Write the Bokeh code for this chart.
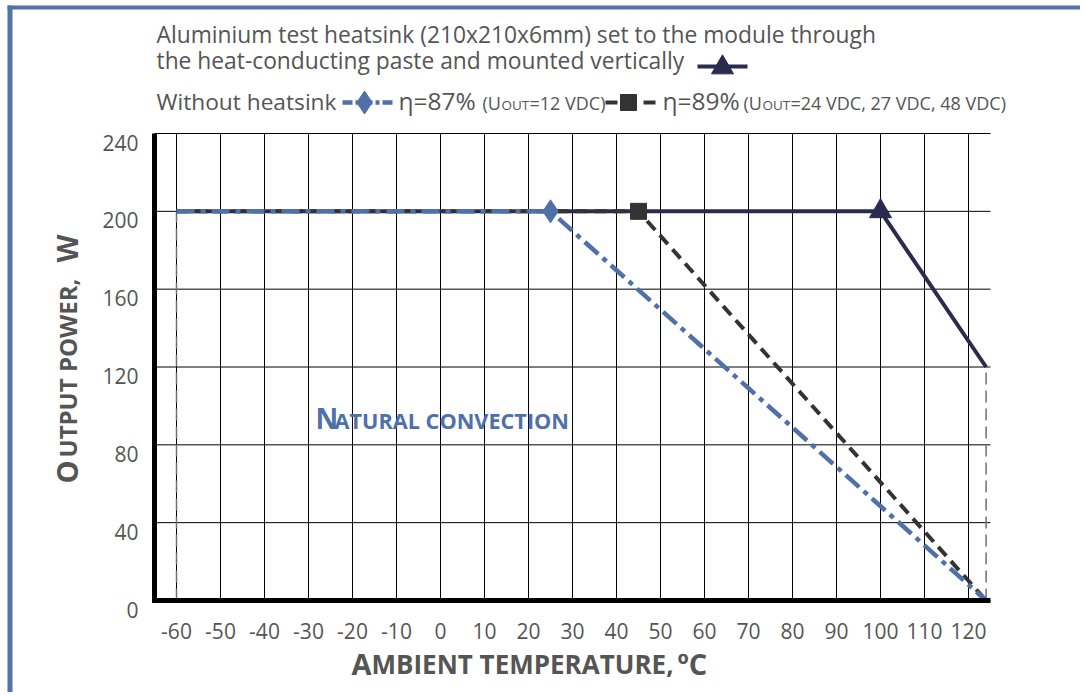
import numpy as np
from bokeh.plotting import figure
from bokeh.models import Range1d
from bokeh.core.properties import value
from bokeh.embed import file_html
from bokeh.resources import INLINE

# ---------------- data ----------------
temp_ticks = [-60, -50, -40, -30, -20, -10, 0, 10, 20, 30, 40, 50, 60, 70, 80, 90, 100, 110, 120]
temp_tick_labels = ["-60", "-50", "-40", "-30", "-20", "-10", "0", "10", "20", "30", "40",
                    "50", "60", "70", "80", "90", "100", "110", "120"]
power_ticks = [0, 40, 80, 120, 160, 200, 240]
power_tick_labels = ["0", "40", "80", "120", "160", "200", "240"]

heatsink_T = [-60, 100, 124]
heatsink_P = [200, 200, 120]
eta87_T = [-60, 25, 124]
eta87_P = [200, 200, 0]
eta89_T = [-60, 45, 124]
eta89_P = [200, 200, 0]
limit_T = [-60, 124]
limit_P = [200, 120]

X_MIN, X_MAX = -65, 125
Y_MIN, Y_MAX = 0, 240

# ---------------- geometry / styles ----------------
NAVY = "#2b2b50"
BLUE = "#4f70a9"
DARK = "#333333"
GRAY = "#555555"
FRAME_BLUE = "#5373aa"
FONT = "Open Sans"
BASE_FIX = 0.36           # measured shift of the rendered alphabetic baseline (em)

W, H = 1080, 692
PXU = 4.4                 # px per degree C
PYU = 467.0 / 240.0       # px per watt
X_LO = -60 - 176 / PXU    # data x at canvas left
X_HI = X_LO + W / PXU
Y_HI = Y_MIN + 600 / PYU  # data y at canvas top
Y_LO = Y_HI - H / PYU


def xd(px):
    return X_LO + px / PXU


def yd(py):
    return Y_HI - py / PYU


p = figure(width=W, height=H, x_range=Range1d(X_LO, X_HI), y_range=Range1d(Y_LO, Y_HI),
           x_axis_type=None, y_axis_type=None, min_border=0, toolbar_location=None,
           output_backend="svg", outline_line_color=None)
p.background_fill_color = "white"


def txt(px, py, s, size, color=GRAY, style="normal", rotated=False):
    fix = BASE_FIX * size
    if rotated:
        px, angle = px - fix, np.pi / 2
    else:
        py, angle = py - fix, 0.0
    p.text(x=[xd(px)], y=[yd(py)], text=[s], text_font=value(FONT), text_font_size=value(f"{size}px"),
           text_color=color, text_font_style=style, text_align="left",
           text_baseline="alphabetic", angle=angle)


# outer frame (blue border, left and top)
p.quad(left=[xd(7)], right=[xd(12)], top=[yd(5)], bottom=[yd(H)], fill_color=FRAME_BLUE, line_color=None)
p.quad(left=[xd(7)], right=[xd(W)], top=[yd(5)], bottom=[yd(9)], fill_color=FRAME_BLUE, line_color=None)

# ---------------- grid ----------------
p.segment(x0=temp_ticks, y0=[Y_MIN] * len(temp_ticks), x1=temp_ticks, y1=[Y_MAX] * len(temp_ticks),
          line_color="black", line_width=1)
p.segment(x0=[X_MIN] * len(power_ticks), y0=power_ticks, x1=[X_MAX] * len(power_ticks), y1=power_ticks,
          line_color="black", line_width=1)

# ---------------- curves ----------------
p.segment(x0=limit_T, y0=[Y_MIN] * len(limit_T), x1=limit_T, y1=limit_P,
          line_color="#707070", line_width=1.5, line_dash="12 6")
p.line(heatsink_T, heatsink_P, line_color=NAVY, line_width=4)
p.line(eta89_T, eta89_P, line_color=DARK, line_width=4, line_dash="12 7")
p.line(eta87_T, eta87_P, line_color=BLUE, line_width=4.5, line_dash="18 6 5 6")
p.scatter([heatsink_T[1]], [heatsink_P[1]], marker="triangle", size=22, color=NAVY)
p.scatter([eta89_T[1]], [eta89_P[1]], marker="square", size=16, color=DARK)
p.scatter([eta87_T[1]], [eta87_P[1]], marker="diamond", size=23, color=BLUE)

# ---------------- axes ----------------
p.segment(x0=[X_MIN], y0=[Y_MIN], x1=[X_MIN], y1=[Y_MAX], line_color="black", line_width=5)
p.segment(x0=[X_MIN - 0.55], y0=[Y_MIN], x1=[X_MAX], y1=[Y_MIN], line_color="black", line_width=5)

p.text(x=temp_ticks, y=[Y_MIN] * len(temp_ticks), text=temp_tick_labels, y_offset=30,
       text_align="center", text_baseline="alphabetic", text_font=value(FONT),
       text_font_size=value("21px"), text_color=GRAY)
p.text(x=[X_MIN] * len(power_ticks), y=power_ticks, text=power_tick_labels, x_offset=-16, y_offset=9,
       text_align="right", text_baseline="alphabetic", text_font=value(FONT),
       text_font_size=value("21px"), text_color=GRAY)

# axis titles (small caps)
txt(351, 673, "A", 29, style="bold")
txt(371, 673, "MBIENT TEMPERATURE,", 26, style="bold")
txt(677, 673, "ºC", 29, style="bold")
txt(76, 483, "O", 29, style="bold", rotated=True)
txt(76, 457, "UTPUT POWER,", 24, style="bold", rotated=True)
txt(76, 262, "W", 29, style="bold", rotated=True)

# in-plot note
txt(315, 428, "N", 28, color=BLUE, style="bold")
txt(334, 428, "ATURAL CONVECTION", 21.7, color=BLUE, style="bold")

# ---------------- header / legend ----------------
txt(156, 42, "Aluminium test heatsink (210x210x6mm) set to the module through", 22.8)
txt(156, 68, "the heat-conducting paste and mounted vertically", 22.8)
txt(156, 109, "Without heatsink", 22.7)
txt(398, 109, "η=87%", 24.5)
txt(662, 109, "η=89%", 24.5)
txt(482, 109, "(U", 18)
txt(501, 109, "OUT", 13.5)
txt(529, 109, "=12 VDC)", 18)
txt(743, 109, "(U", 18)
txt(762, 109, "OUT", 13.5)
txt(790, 109, "=24 VDC, 27 VDC, 48 VDC)", 18)

# legend keys
p.line([xd(697), xd(747)], [yd(66), yd(66)], line_color=NAVY, line_width=4)
p.scatter([xd(722)], [yd(67)], marker="triangle", size=22, color=NAVY)
p.line([xd(342), xd(392)], [yd(102), yd(102)], line_color=BLUE, line_width=4.5, line_dash="10 3 4 3")
p.scatter([xd(364)], [yd(102)], marker="diamond", size=23, color=BLUE)
p.line([xd(605), xd(655)], [yd(102), yd(102)], line_color=DARK, line_width=4, line_dash="12 7")
p.scatter([xd(628)], [yd(102)], marker="square", size=16, color=DARK)

open("out.html", "w").write(file_html(p, INLINE))
